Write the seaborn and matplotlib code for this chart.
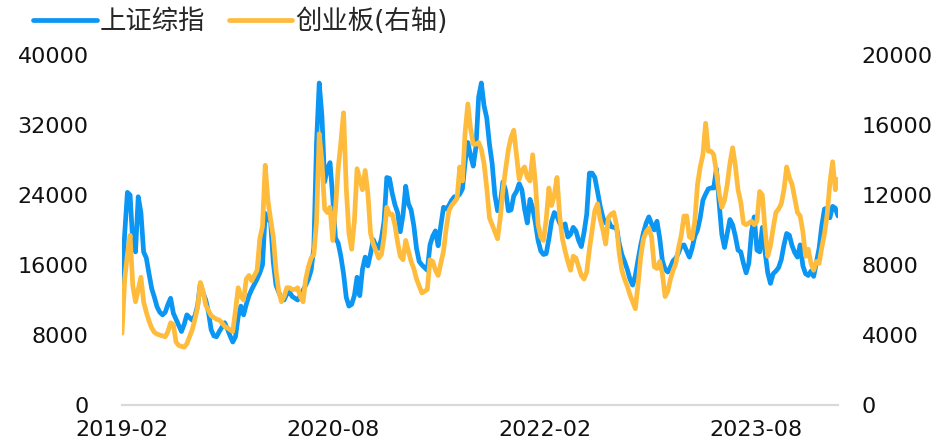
import matplotlib
matplotlib.use('Agg')
import matplotlib.pyplot as plt
import matplotlib.dates as mdates
from matplotlib.lines import Line2D
import seaborn as sns
import pandas as pd

sns.set_theme(style='white')
plt.rcParams['font.family'] = ['DejaVu Sans', 'Noto Sans CJK SC']
plt.rcParams['axes.unicode_minus'] = False

# weekly observations, 2019-02 to 2024-02
dates = pd.date_range('2019-02-01', periods=266, freq='7D')

# 上证综指 (left axis)
sh_comp = [
    14000, 19600, 24300, 24000, 18500, 17500, 23800, 22000, 17500, 16800,
    15000, 13300, 12300, 11200, 10600, 10300, 10600, 11500, 12200, 10500,
    9800, 9100, 8400, 9200, 10300, 10000, 9700, 10200, 11400, 13900,
    12800, 12000, 10600, 8600, 7900, 7800, 8400, 8900, 9400, 8700,
    7900, 7200, 7800, 10100, 11300, 10300, 11500, 12500, 13200, 13800,
    14400, 15100, 16000, 21900, 21200, 20900, 16300, 13700, 12900, 12200,
    12000, 12700, 12900, 12400, 12200, 12000, 12500, 13100, 13700, 14400,
    15400, 18000, 30000, 36800, 33000, 25500, 27000, 27700, 23700, 19100,
    18500, 17000, 15000, 12300, 11300, 11500, 12500, 14600, 12500, 15500,
    16900, 15900, 17300, 18900, 18200, 17900, 19000, 21000, 26000, 25900,
    24200, 22900, 22000, 19800, 21700, 25000, 23000, 22300, 20500, 17900,
    16400, 16000, 15700, 15400, 18300, 19300, 19900, 18200, 20500, 22600,
    22400, 22800, 23400, 23800, 23800, 24100, 24700, 27800, 30000, 28500,
    27300, 29500, 35200, 36800, 34200, 32800, 29800, 27600, 24000, 22200,
    23000, 25500, 24500, 22200, 22300, 23900, 24400, 25300, 24600, 22400,
    20800, 23500, 22500, 20800, 18800, 17600, 17200, 17300, 19000, 21000,
    22000, 21600, 20800, 20300, 20700, 19200, 19500, 20300, 19900, 18800,
    18100, 19700, 21800, 26500, 26500, 26000, 24400, 22700, 21400, 20800,
    21100, 20400, 20300, 20300, 18500, 17200, 16400, 15500, 14400, 13700,
    14800, 16600, 18300, 19700, 20800, 21500, 20700, 20000, 21000, 19100,
    16500, 15500, 15200, 15800, 16500, 16800, 17400, 18200, 18300, 17600,
    16900, 17900, 19300, 20000, 21400, 23400, 24100, 24700, 24800, 24800,
    27000, 23100, 19500, 18000, 19600, 21200, 20600, 19300, 17700, 17500,
    16200, 15100, 16200, 19800, 21500, 17700, 17500, 20300, 17500, 15100,
    13900, 15000, 15300, 15700, 16600, 18300, 19600, 19400, 18200, 17400,
    16900, 18300, 15900, 15000, 14800, 15300, 14700, 16300, 17900, 20500,
    22400, 22500, 21400, 22700, 22500, 21600,
]

# 创业板 (right axis)
gem = [
    4100, 7200, 8600, 9700, 6800, 5900, 6600, 7300, 5900, 5300,
    4800, 4400, 4150, 4050, 4000, 3950, 3900, 4200, 4700, 4600,
    3600, 3400, 3350, 3300, 3500, 3900, 4300, 4900, 5600, 7000,
    6500, 5700, 5400, 5100, 5000, 4900, 4850, 4700, 4500, 4400,
    4300, 4200, 5400, 6700, 6200, 6000, 7200, 7400, 7100, 7400,
    7700, 9500, 10200, 13700, 11700, 10600, 9600, 7700, 6500, 5900,
    6200, 6700, 6700, 6600, 6600, 6700, 6200, 5900, 7200, 7900,
    8400, 8600, 10500, 15500, 13900, 11200, 11000, 11300, 9400, 11200,
    13500, 15000, 16700, 12400, 9800, 8900, 10500, 13500, 12900, 12300,
    13400, 12100, 9800, 9200, 8800, 8400, 8600, 9600, 11300, 10900,
    10900, 10300, 9300, 8500, 8300, 9400, 8800, 8200, 7800, 7200,
    6800, 6400, 6500, 6600, 8300, 8200, 7700, 7400, 8100, 8800,
    10100, 11100, 11400, 11600, 11800, 13600, 12800, 15600, 17200, 15800,
    14900, 14900, 15000, 14600, 13800, 12400, 10700, 10300, 9900, 9500,
    10700, 12300, 13500, 14600, 15300, 15700, 14300, 12900, 13400, 13600,
    13000, 12800, 14300, 12700, 10300, 9600, 9400, 10600, 12400, 11400,
    12000, 13000, 10800, 9500, 8800, 8200, 7700, 8500, 8400, 7900,
    7400, 7200, 7600, 8900, 10000, 11100, 11500, 10600, 10000, 9200,
    10700, 10900, 11000, 10300, 8700, 7700, 7200, 6800, 6300, 5900,
    5500, 6900, 8500, 9500, 9900, 10100, 9600, 7900, 7800, 8200,
    7500, 6200, 6500, 7200, 7700, 8100, 9000, 9700, 10800, 10800,
    9600, 9500, 10500, 12600, 13600, 14300, 16100, 14500, 14500, 14300,
    13300, 12100, 11300, 11700, 12600, 13800, 14700, 13700, 12300, 11600,
    10400, 10300, 10400, 10500, 10300, 10500, 12200, 12000, 10000, 8500,
    9100, 10100, 11000, 11200, 11500, 12300, 13600, 13000, 12600, 11800,
    11000, 10800, 9900, 8500, 8900, 8100, 7700, 8200, 8100, 9000,
    9800, 10900, 12700, 13900, 12300, 12900,
]

labels = ['上证综指', '创业板(右轴)']
colors = ['#0A96F2', '#FEBB3C']
x_ticks = ['2019-02-01', '2020-08-01', '2022-02-01', '2023-08-01']

df = pd.DataFrame({'date': dates, 'sh': sh_comp, 'gem': gem})

fig = plt.figure(figsize=(9.43, 4.41), dpi=100)
ax = fig.add_axes([122 / 943, 36 / 441, 716 / 943, 350 / 441])
ax2 = ax.twinx()

sns.lineplot(data=df, x='date', y='sh', ax=ax, color=colors[0], lw=3.4)
sns.lineplot(data=df, x='date', y='gem', ax=ax2, color=colors[1], lw=3.4)

ax.set_xlim(dates[0], dates[-1])
ax.set_ylim(0, 40000)
ax2.set_ylim(0, 20000)
ax.set_yticks(range(0, 40001, 8000))
ax2.set_yticks(range(0, 20001, 4000))
ax.set_xticks(pd.to_datetime(x_ticks))
ax.xaxis.set_major_formatter(mdates.DateFormatter('%Y-%m'))

for a in (ax, ax2):
    a.set_xlabel('')
    a.set_ylabel('')
    for s in ['top', 'left', 'right']:
        a.spines[s].set_visible(False)
    a.spines['bottom'].set_color('#D9D9D9')
    a.spines['bottom'].set_linewidth(1.5)

ax.tick_params(axis='y', length=0, labelsize=16, pad=24, labelcolor='#111111')
ax2.tick_params(axis='y', length=0, labelsize=16, pad=17, labelcolor='#111111')
ax.tick_params(axis='x', direction='in', length=4, width=1.2, color='#D9D9D9',
               labelsize=16, pad=11, labelcolor='#111111')

handles = [Line2D([], [], color=c, lw=3.4) for c in colors]
fig.legend(handles, labels, loc='center left', bbox_to_anchor=(0.024, 0.95),
           ncol=2, frameon=False, fontsize=19, handlelength=2.4,
           handletextpad=0.12, columnspacing=0.9, borderaxespad=0)

fig.savefig('out.png', dpi=100)
